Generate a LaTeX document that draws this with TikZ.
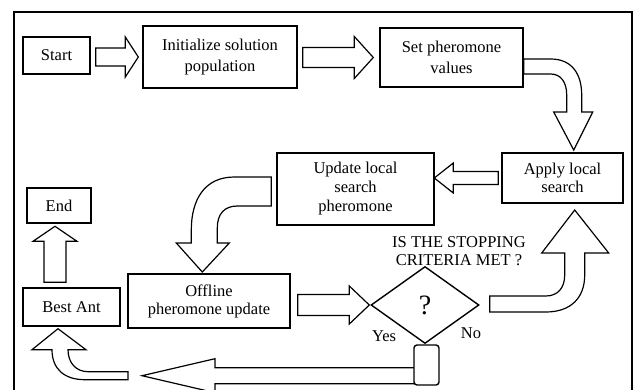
\documentclass[tikz,border=0pt]{standalone}
\usepackage{fontspec}
\setmainfont{Liberation Serif}
\usetikzlibrary{shapes.geometric,calc}

% straight block arrow pointing right, from the east side of #1 to the west side of #2
% #3 gap at the tail, #4 gap at the tip, #5 half shaft, #6 half head, #7 head length
\newcommand\rightblock[7]{%
  \draw[blockarrow] let \p1=(#1.east), \p2=(#2.west) in
    (\x1+#3pt,\y2+#5pt) -- (\x2-#4pt-#7pt,\y2+#5pt) -- (\x2-#4pt-#7pt,\y2+#6pt)
    -- (\x2-#4pt,\y2) -- (\x2-#4pt-#7pt,\y2-#6pt) -- (\x2-#4pt-#7pt,\y2-#5pt)
    -- (\x1+#3pt,\y2-#5pt) -- cycle;}

\begin{document}
\begin{tikzpicture}[x=1pt,y=-1pt,
  every node/.style={font=\fontsize{16.5}{19}\selectfont},
  box/.style={draw, line width=1.4pt, fill=white, align=center, inner sep=0pt},
  blockarrow/.style={draw, line width=1.2pt, fill=white, line join=miter},
  frame/.style={draw, line width=1.5pt}]
\clip (0,0) rectangle (634,389);
\fill[white] (0,0) rectangle (634,389);

% outer frame (open at the bottom)
\draw[frame] (14,400) -- (14,12) -- (632,12) -- (632,400);

% process boxes
\node[box, minimum width=67pt, minimum height=37pt] (start) at (56.5,55.5) {Start};
\node[box, minimum width=154pt, minimum height=62pt,
      font=\fontsize{16.5}{21}\selectfont] (init) at (220,57) {Initialize solution\\population};
\node[box, minimum width=143pt, minimum height=59pt,
      font=\fontsize{16.5}{21}\selectfont] (set) at (451.5,57.5) {Set pheromone\\values};
\node[box, minimum width=121pt, minimum height=50pt,
      font=\fontsize{16.5}{18}\selectfont] (apply) at (562.5,178) {Apply local\\search};
\node[box, minimum width=157pt, minimum height=72pt] (update) at (355.5,189) {Update local\\search\\pheromone};
\node[box, minimum width=162pt, minimum height=54pt,
      font=\fontsize{16.5}{18}\selectfont] (offline) at (209,301) {Offline\\pheromone update};
\node[box, diamond, minimum width=108pt, minimum height=77pt,
      font=\fontsize{28}{30}\selectfont] (dec) at (425,305) {\raisebox{-4pt}{?}};
\node[box, minimum width=97pt, minimum height=38pt] (best) at (71.5,307) {Best Ant};
\node[box, minimum width=64pt, minimum height=35pt] (endn) at (59,205.5) {End};

% decision texts
\node[align=center, font=\fontsize{16.5}{18}\selectfont] (question) at (459,251)
  {IS THE STOPPING\\CRITERIA MET ?};
\node (yes) at (384,336) {Yes};
\node (no) at (471,333) {No};

% straight block arrows
\rightblock{start}{init}{5}{4}{9}{20}{13}
\rightblock{init}{set}{5}{6}{10}{21}{19}
\rightblock{offline}{dec}{7}{1}{10.5}{19}{20}

% Set pheromone values -> Apply local search
\draw[blockarrow, shift={(set.east)}]
  (0,1.5) -- (27,1.5) .. controls (49,1.5) and (58,17.5) .. (58,37.5) -- (58,54.5)
  -- (69,54.5) -- (50,92.5) -- (30,54.5) -- (43,54.5) -- (43,37.5)
  .. controls (43,24.5) and (37,16.5) .. (27,16.5) -- (0,16.5) -- cycle;

% Apply local search -> Update local search pheromone
\draw[blockarrow, shift={(apply.west)}]
  (-3,-6.5) -- (-48,-6.5) -- (-48,-15) -- (-67,0) -- (-48,15) -- (-48,6.5)
  -- (-3,6.5) -- cycle;

% Update local search pheromone -> Offline pheromone update
\draw[blockarrow, shift={(update.west)}]
  (-5,-12) -- (-42,-12) .. controls (-72,-12) and (-85,11) .. (-85,41) -- (-85,54)
  -- (-100,54) -- (-74,83) -- (-47,54) -- (-59,54) -- (-59,39)
  .. controls (-59,25) and (-52,17) .. (-39,17) -- (-5,17) -- cycle;

% No: decision -> Apply local search
\draw[blockarrow, shift={(dec.east)}]
  (10,-9) -- (66,-9) .. controls (78,-9) and (85,-17) .. (85,-30) -- (85,-52)
  -- (62,-52) -- (95,-95) -- (129,-52) -- (105,-52) -- (105,-30)
  .. controls (105,-7) and (91,7) .. (66,7) -- (10,7) -- cycle;

% Yes: junction below the decision, long arrow back to the left
\draw[blockarrow, shift={(dec.south)}]
  (1.5,23.5) -- (-210,23.5) -- (-210,14.5) -- (-283,31.5) -- (-210,48.5)
  -- (-210,39.5) -- (1.5,39.5);
\node[draw, line width=1.4pt, fill=white, rounded corners=3pt, inner sep=0pt,
      minimum width=25pt, minimum height=40pt] (join) at (426.5,365) {};

% turn up into Best Ant
\draw[blockarrow, shift={(best.south)}]
  (56.5,45) -- (16.5,45) .. controls (4.5,45) and (-3.5,36) .. (-3.5,23)
  -- (14.5,23) -- (-13.5,2) -- (-39.5,23) -- (-19.5,23)
  .. controls (-19.5,42) and (-7.5,53) .. (13.5,53) -- (56.5,53) -- cycle;

% Best Ant -> End
\draw[blockarrow, shift={(best.north)}]
  (-27.5,-5) -- (-27.5,-46) -- (-38.5,-46) -- (-16.5,-61) -- (5.5,-46)
  -- (-5.5,-46) -- (-5.5,-5) -- cycle;
\end{tikzpicture}
\end{document}
